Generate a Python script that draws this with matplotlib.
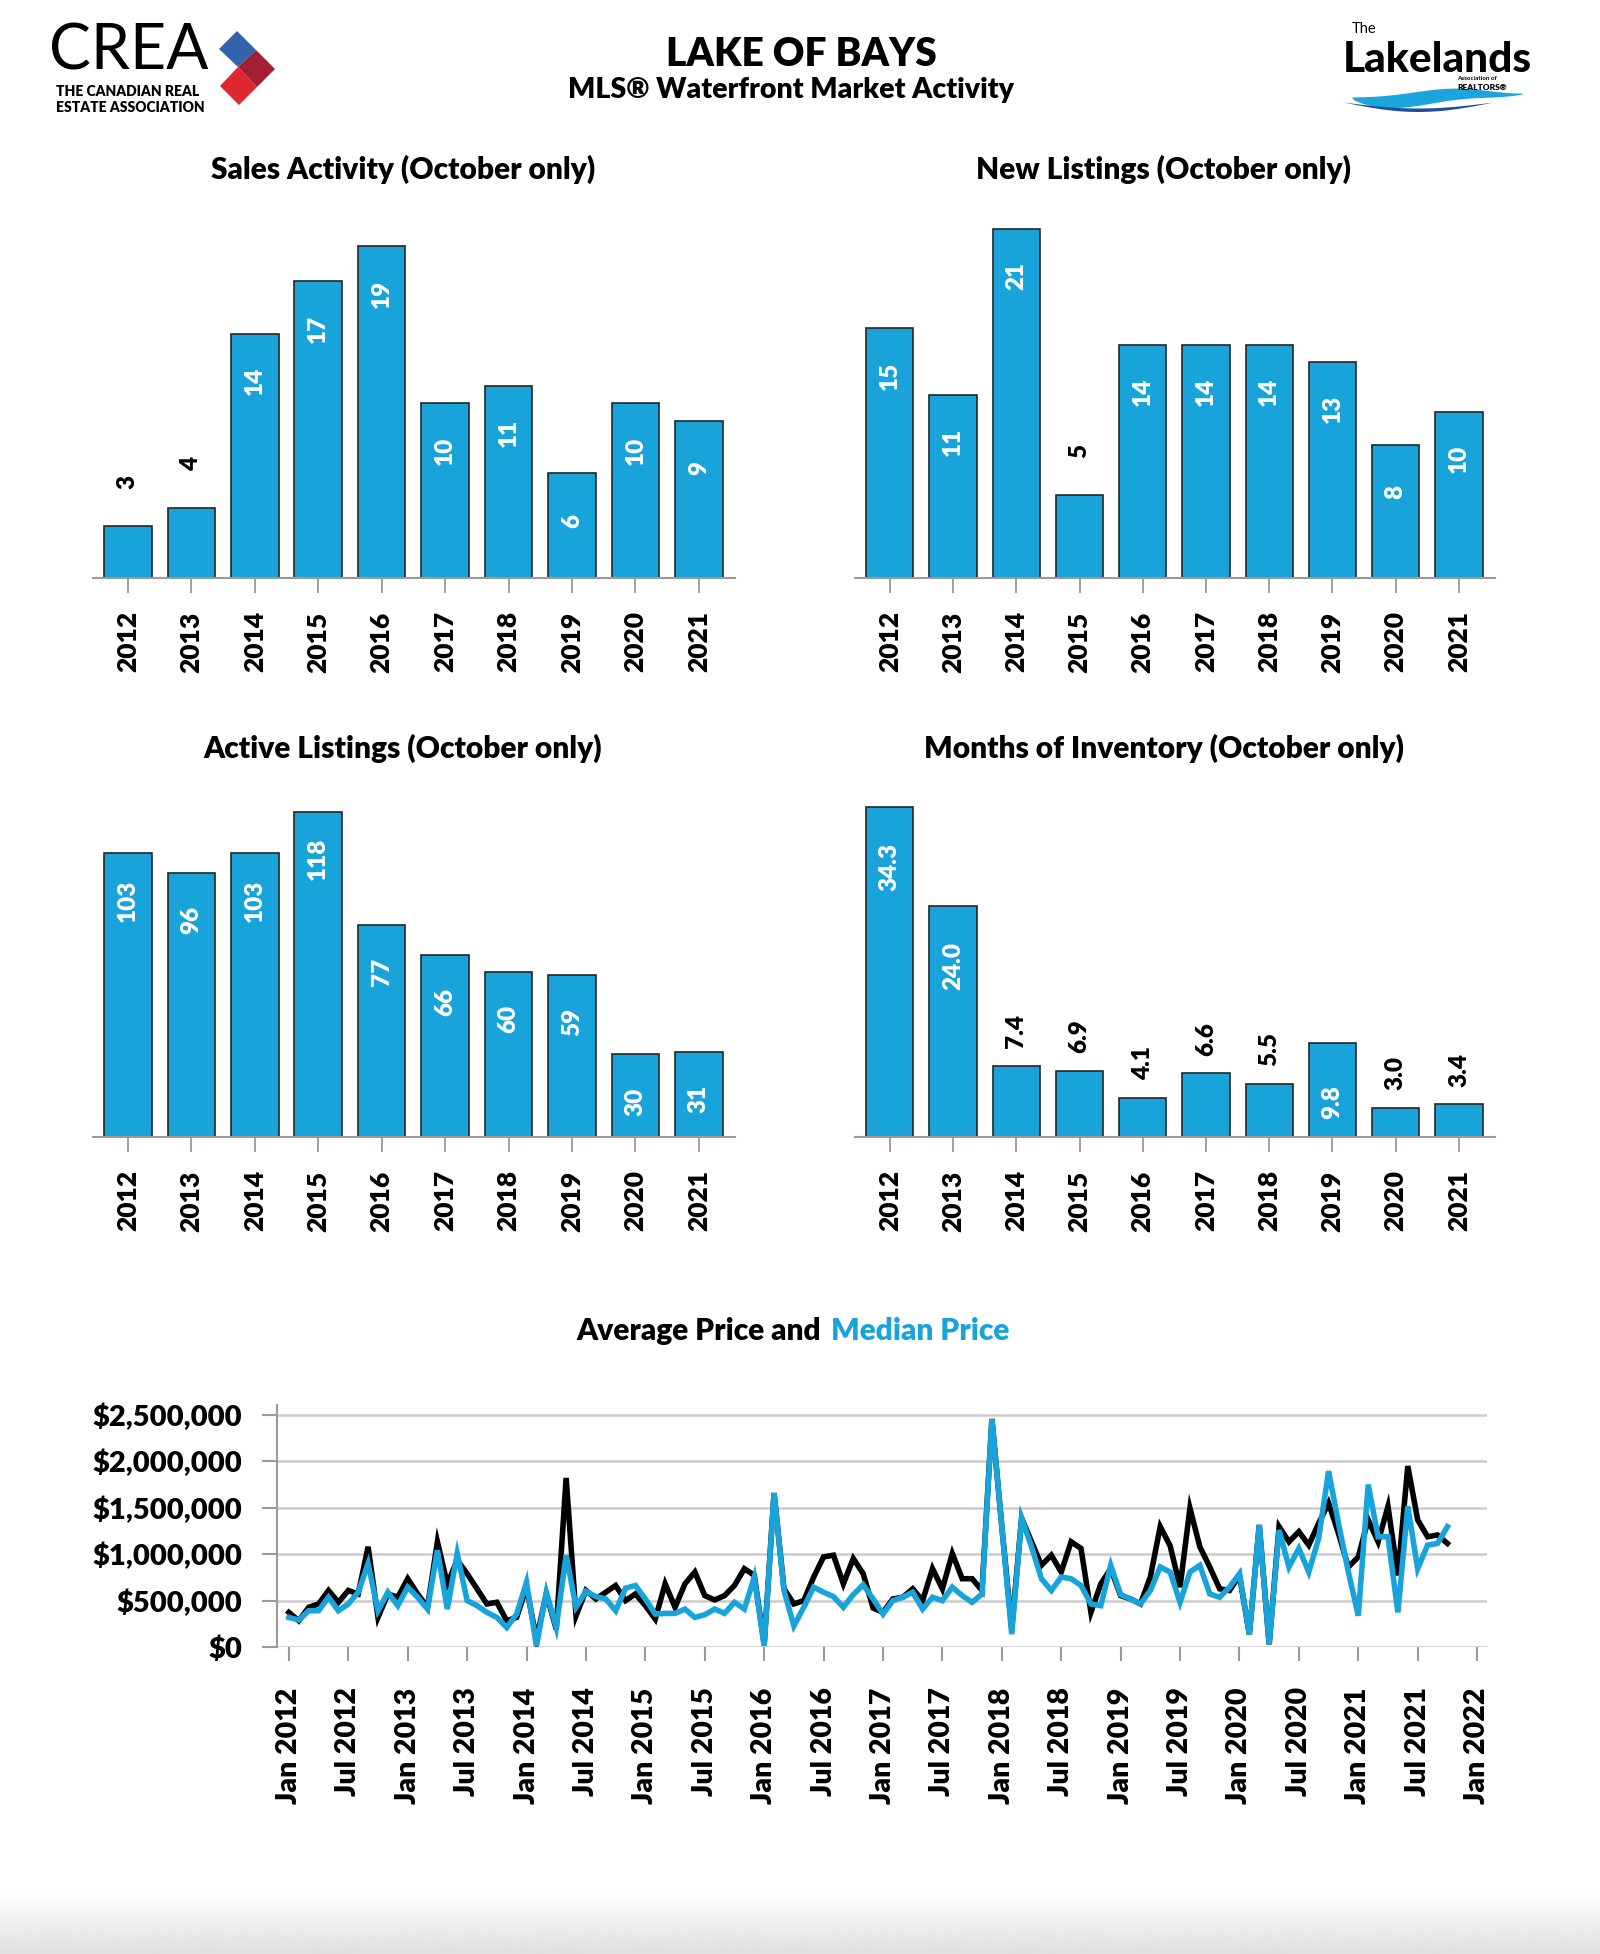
import numpy as np
import pandas as pd
import matplotlib
matplotlib.use("Agg")
import matplotlib.pyplot as plt
from matplotlib.patches import Polygon

plt.rcParams['font.family'] = ['Lato', 'DejaVu Sans']
plt.rcParams['font.weight'] = 'bold'

BLUE = '#19a3db'
GRAY = '#9a9a9a'
WT = 'heavy'

# October-only yearly figures
years = ['2012', '2013', '2014', '2015', '2016', '2017', '2018', '2019', '2020', '2021']
sales = [3, 4, 14, 17, 19, 10, 11, 6, 10, 9]
new_listings = [15, 11, 21, 5, 14, 14, 14, 13, 8, 10]
active = [103, 96, 103, 118, 77, 66, 60, 59, 30, 31]
months_inv = [34.3, 24.0, 7.4, 6.9, 4.1, 6.6, 5.5, 9.8, 3.0, 3.4]

# monthly prices (thousands of $), Jan 2012 .. Oct 2021
avg_price = [373, 283, 428, 464, 609, 482, 609, 572, 1080, 319,
             572, 536, 736, 572, 428, 1134, 681, 935, 790, 627,
             464, 482, 283, 319, 645, 83, 572, 192, 1822, 337,
             609, 518, 590, 663, 500, 572, 446, 301, 681, 428,
             681, 808, 554, 507, 554, 663, 844, 772, 29, 1659,
             627, 464, 500, 754, 971, 989, 681, 953, 790, 420,
             373, 518, 536, 627, 500, 844, 627, 1007, 736, 736,
             609, 2457, 1300, 200, 1388, 1134, 880, 989, 808, 1134,
             1062, 373, 681, 844, 554, 518, 464, 754, 1297, 1090,
             645, 1496, 1080, 862, 627, 609, 772, 138, 1315, 29,
             1297, 1134, 1243, 1098, 1333, 1551, 1225, 862, 971, 1370,
             1134, 1515, 772, 1950, 1370, 1188, 1207, 1116]
median_price = [319, 290, 391, 391, 536, 391, 464, 590, 899, 391,
                590, 446, 645, 536, 409, 1043, 409, 1007, 500, 446,
                373, 319, 210, 355, 699, 10, 590, 210, 989, 430,
                600, 543, 518, 391, 634, 663, 518, 355, 362, 362,
                409, 319, 348, 409, 362, 482, 409, 754, 11, 1659,
                609, 228, 428, 645, 590, 543, 428, 565, 670, 520,
                355, 500, 536, 590, 409, 536, 500, 645, 554, 482,
                572, 2457, 1300, 138, 1388, 1080, 736, 609, 754, 736,
                663, 464, 446, 880, 565, 518, 464, 609, 862, 808,
                480, 808, 880, 572, 536, 645, 790, 138, 1315, 29,
                1261, 862, 1062, 808, 1170, 1895, 1333, 808, 337, 1750,
                1188, 1188, 373, 1515, 844, 1098, 1116, 1297]

W, H = 1600, 1954
fig = plt.figure(figsize=(W / 100, H / 100), dpi=100)


def box(x0, y0, x1, y1):
    return [x0 / W, 1 - y1 / H, (x1 - x0) / W, (y1 - y0) / H]


# overlay in pixel coordinates for titles and logos
ov = fig.add_axes([0, 0, 1, 1])
ov.set_xlim(0, W)
ov.set_ylim(H, 0)
ov.axis('off')

# faint gray fade at the bottom
grad = np.linspace(1, 0.875, 60).reshape(-1, 1)
ov.imshow(grad, extent=(0, W, H, H - 62), cmap='gray', vmin=0, vmax=1, aspect='auto', zorder=0)

# header
ov.text(801, 54, 'LAKE OF BAYS', ha='center', va='center', fontsize=28, fontweight=WT)
ov.text(791, 90, 'MLS® Waterfront Market Activity', ha='center', va='center', fontsize=20.5, fontweight=WT)

# CREA logo
ov.text(49, 51, 'CREA', ha='left', va='center', fontsize=45, fontweight='normal')
ov.text(56, 91, 'THE CANADIAN REAL', ha='left', va='center', fontsize=10, fontweight=WT)
ov.text(56, 107, 'ESTATE ASSOCIATION', ha='left', va='center', fontsize=10, fontweight=WT)
ov.add_patch(Polygon([(219, 49), (237, 31), (256, 50), (238, 67)], closed=True, color='#3463ae', lw=0))
ov.add_patch(Polygon([(238, 67), (256, 50), (275, 69), (257, 87)], closed=True, color='#a31f35', lw=0))
ov.add_patch(Polygon([(220, 86), (238, 67), (257, 87), (239, 105)], closed=True, color='#e0262f', lw=0))

# Lakelands logo
ov.text(1352, 29, 'The', ha='left', va='center', fontsize=10.5, fontweight='normal')
ov.text(1532, 72, 'Lakelands', ha='right', va='baseline', fontsize=30.5, fontweight='black')
ov.text(1457, 79, 'Association of', ha='left', va='center', fontsize=4.5)
ov.text(1457, 87, 'REALTORS®', ha='left', va='center', fontsize=6, fontweight=WT)
t = np.linspace(0, 1, 100)
wx = 1352 + 170 * t
top = 97 - 4 * t - 12 * np.sin(np.pi * t) ** 2 * t
bot = top + 1 + 13 * np.sin(np.pi * t ** 0.7)
ov.fill_between(wx, top, bot, color='#1ca4dc', lw=0)
dx = 1343 + 150 * t
dtop = 102 + 6 * np.sin(np.pi * t)
ov.fill_between(dx, dtop, dtop + 3.5 * np.sin(np.pi * t), color='#1f4f9c', lw=0)


def bar_panel(rect, vals, ymax, title, fmt, in_off, above_off, title_off):
    ax = fig.add_axes(box(*rect))
    x = np.arange(len(vals))
    ax.bar(x, vals, width=0.75, color=BLUE, edgecolor='#262626', linewidth=1.2, zorder=2)
    ax.set_xlim(-0.55, len(vals) - 0.43)
    ax.set_ylim(0, ymax)
    ax.set_xticks(x)
    ax.set_xticklabels(years, rotation=90, fontsize=19, fontweight=WT, va='top')
    ax.tick_params(axis='x', length=11, width=1.3, color=GRAY, pad=13)
    ax.set_yticks([])
    for s in ['left', 'right', 'top']:
        ax.spines[s].set_visible(False)
    ax.spines['bottom'].set_color(GRAY)
    ax.spines['bottom'].set_linewidth(1.5)
    ax.patch.set_alpha(0)
    vmax = max(vals)
    for xi, v in zip(x, vals):
        lab = fmt.format(v)
        if v / vmax >= 0.25:
            ax.annotate(lab, (xi, v), xytext=(0, -in_off), textcoords='offset points',
                        rotation=90, ha='center', va='center', color='white',
                        fontsize=17.5, fontweight=WT)
        else:
            ax.annotate(lab, (xi, v), xytext=(0, above_off), textcoords='offset points',
                        rotation=90, ha='center', va='center', color='black',
                        fontsize=17.5, fontweight=WT)
    cx = (rect[0] + rect[2]) / 2 - 11
    ov.text(cx, rect[1] - title_off, title, ha='center', va='center', fontsize=21.5, fontweight=WT)
    return ax


bar_panel((93, 212, 735, 578), sales, 20.97, 'Sales Activity (October only)', '{:d}', 34, 31.5, 43)
bar_panel((855, 212, 1495, 578), new_listings, 22.0, 'New Listings (October only)', '{:d}', 34, 31.5, 43)
bar_panel((93, 779, 735, 1137), active, 130, 'Active Listings (October only)', '{:d}', 34, 31.5, 31)
bar_panel((855, 779, 1495, 1137), months_inv, 37.2, 'Months of Inventory (October only)', '{:.1f}', 43, 25, 31)

# price lines
lx = fig.add_axes(box(277, 1405, 1487, 1647))
m = np.arange(len(avg_price))
lx.plot(m, np.array(avg_price) * 1000, color='black', lw=4.0, solid_joinstyle='miter', zorder=3)
lx.plot(m, np.array(median_price) * 1000, color=BLUE, lw=4.0, solid_joinstyle='miter', zorder=4)
lx.set_ylim(0, 2.608e6)
lx.set_xlim(-1.2, 121)
yt = np.arange(0, 2.5e6 + 1, 5e5)
lx.set_yticks(yt)
lx.set_yticklabels(['${:,.0f}'.format(v) for v in yt], fontsize=21, fontweight=WT)
tick_months = np.arange(0, 121, 6)
tick_labels = pd.date_range('2012-01-01', periods=len(tick_months), freq='6MS').strftime('%b %Y')
lx.set_xticks(tick_months)
lx.set_xticklabels(tick_labels, rotation=90, fontsize=20.5, fontweight=WT, va='top')
lx.grid(axis='y', color='#cccccc', lw=1.8, zorder=0)
lx.tick_params(axis='y', length=11, width=1.5, color=GRAY, pad=14)
lx.tick_params(axis='x', length=10, width=1.5, color=GRAY, pad=19)
for s in ['right', 'top', 'bottom']:
    lx.spines[s].set_visible(False)
lx.spines['left'].set_color(GRAY)
lx.spines['left'].set_linewidth(1.5)
lx.patch.set_alpha(0)

ov.text(821, 1331, 'Average Price and', ha='right', va='center', fontsize=21.5, fontweight=WT)
ov.text(831, 1331, 'Median Price', ha='left', va='center', fontsize=21.5, fontweight=WT, color=BLUE)

fig.savefig('out.png', dpi=100)
